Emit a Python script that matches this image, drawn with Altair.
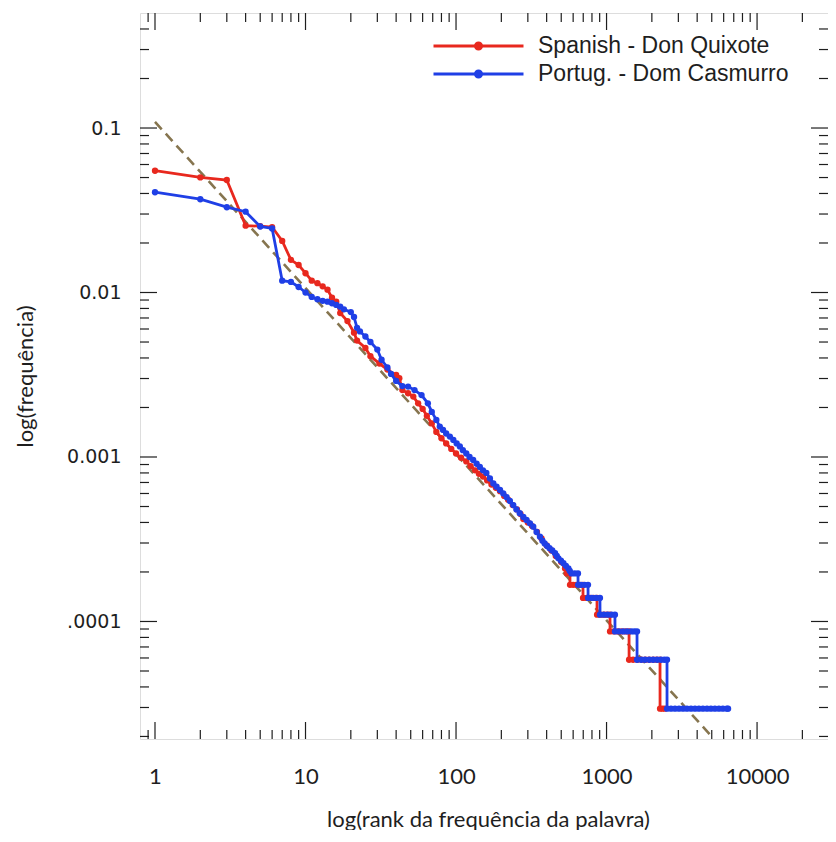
import altair as alt
import pandas as pd

series_names = ["Spanish - Don Quixote", "Portug. - Dom Casmurro"]
series_colors = ["#e8281e", "#1f3fe6"]
fit_color = "#86754f"

spanish_rank = [1, 2, 3, 4, 5, 6, 7, 8, 9, 10, 11, 12, 13, 14, 15, 16, 17, 19, 21, 22,
                25, 27, 31, 35, 40, 42, 44, 48, 52, 56, 60, 64, 69, 74, 80, 86, 93, 100,
                108, 117, 125, 134, 142, 151, 161, 172, 184, 196, 209, 222, 238, 254, 268,
                280, 300, 320, 345, 370, 400, 430, 460, 500, 530, 545, 571,
                572, 600, 630, 665, 697,
                698, 740, 780, 820, 864,
                865, 910, 960, 1005, 1054,
                1055, 1120, 1190, 1260, 1335, 1411,
                1412, 1500, 1600, 1700, 1810, 1920, 2040, 2150, 2266,
                2267, 2350, 2440]
spanish_freq = [0.0550, 0.0501, 0.0483, 0.0255, 0.0253, 0.0250, 0.0206, 0.0158, 0.0147, 0.0131,
                0.0118, 0.0114, 0.0109, 0.0104, 0.0093, 0.0088, 0.0075, 0.0067, 0.0057, 0.0051,
                0.0046, 0.0041, 0.0037, 0.0034, 0.00315, 0.00301, 0.00255, 0.00244, 0.00233,
                0.00212, 0.00196, 0.00178, 0.00160, 0.00142, 0.00130, 0.00121, 0.00112, 0.00105,
                0.00099, 0.00094, 0.00088, 0.00083, 0.00079, 0.00076, 0.00072, 0.00068, 0.00065,
                0.00062, 0.00058, 0.00055, 0.00051, 0.00048, 0.00045, 0.00042, 0.00040, 0.00038,
                0.00035, 0.00032, 0.00029, 0.00027, 0.00025, 0.00023, 0.00021, 0.000196, 0.000196,
                0.000167, 0.000167, 0.000167, 0.000167, 0.000167,
                0.000139, 0.000139, 0.000139, 0.000139, 0.000139,
                0.000110, 0.000110, 0.000110, 0.000110, 0.000110,
                8.7e-5, 8.7e-5, 8.7e-5, 8.7e-5, 8.7e-5, 8.7e-5,
                5.85e-5, 5.85e-5, 5.85e-5, 5.85e-5, 5.85e-5, 5.85e-5, 5.85e-5, 5.85e-5, 5.85e-5,
                2.95e-5, 2.95e-5, 2.95e-5]

portug_rank = [1, 2, 3, 4, 5, 6, 7, 8, 9, 10, 11, 12, 13, 14, 15, 16, 17, 18, 20, 21,
               22, 23, 25, 27, 30, 32, 35, 37, 40, 44, 48, 53, 59, 65, 69, 74, 78, 82, 86,
               91, 96, 101, 106, 111, 117, 123, 130, 137, 144, 151, 159, 168, 177, 186, 196,
               206, 217, 228, 240, 252, 265, 280, 294, 310, 326, 343, 361, 375, 388, 403,
               418, 436, 455, 467, 479, 498, 517, 537, 558, 570, 585, 615, 646,
               647, 680, 715, 753,
               754, 800, 850, 904,
               905, 960, 1020, 1080, 1137,
               1138, 1210, 1290, 1370, 1460, 1530, 1594,
               1595, 1700, 1800, 1920, 2040, 2170, 2300, 2420, 2522,
               2523, 2680, 2850, 3030, 3220, 3420, 3640, 3870, 4110, 4370, 4650, 4940,
               5250, 5580, 5930, 6300, 6417]
portug_freq = [0.0407, 0.0369, 0.0330, 0.0310, 0.0252, 0.0245, 0.0118, 0.0116, 0.0108, 0.0100,
               0.0094, 0.0091, 0.0089, 0.0088, 0.0086, 0.0084, 0.0082, 0.0079, 0.0076, 0.0071,
               0.0061, 0.0058, 0.0054, 0.0050, 0.0045, 0.0039, 0.0035, 0.0032, 0.0029, 0.0027,
               0.00268, 0.00255, 0.00238, 0.00212, 0.00188, 0.00168, 0.00153, 0.00146, 0.00139,
               0.00133, 0.00127, 0.00121, 0.00116, 0.00110, 0.00105, 0.00100, 0.00096, 0.00091,
               0.00087, 0.00083, 0.00080, 0.00074, 0.00069, 0.00066, 0.00063, 0.00060, 0.00057,
               0.00054, 0.00051, 0.00048, 0.000455, 0.000432, 0.000414, 0.000395, 0.000377,
               0.000350, 0.000328, 0.000310, 0.000298, 0.000288, 0.000279, 0.000270, 0.000260,
               0.000250, 0.000242, 0.000234, 0.000226, 0.000218, 0.000210, 0.000203, 0.000196,
               0.000196, 0.000196,
               0.000167, 0.000167, 0.000167, 0.000167,
               0.000139, 0.000139, 0.000139, 0.000139,
               0.000110, 0.000110, 0.000110, 0.000110, 0.000110,
               8.7e-5, 8.7e-5, 8.7e-5, 8.7e-5, 8.7e-5, 8.7e-5, 8.7e-5,
               5.85e-5, 5.85e-5, 5.85e-5, 5.85e-5, 5.85e-5, 5.85e-5, 5.85e-5, 5.85e-5, 5.85e-5,
               2.95e-5, 2.95e-5, 2.95e-5, 2.95e-5, 2.95e-5, 2.95e-5, 2.95e-5, 2.95e-5, 2.95e-5,
               2.95e-5, 2.95e-5, 2.95e-5, 2.95e-5, 2.95e-5, 2.95e-5, 2.95e-5, 2.95e-5]

fit_rank = [1, 5000]
fit_freq = [0.109, 2.0e-5]

x_tick_values = [1, 10, 100, 1000, 10000]
x_tick_labels = ["1", "10", "100", "1000", "10000"]
y_tick_values = [0.1, 0.01, 0.001, 0.0001]
y_tick_labels = ["0.1", "0.01", "0.001", ".0001"]

x_domain = [0.795, 29600]
y_domain = [1.93e-5, 0.5003]

x_minor = [0.9] + [m * 10 ** e for e in range(0, 5) for m in range(2, 10)]
x_minor = [v for v in x_minor if v < x_domain[1]]
y_minor = [m * 10.0 ** e for e in range(-5, 0) for m in range(2, 10)]
y_minor = [v for v in y_minor if y_domain[0] < v < 0.45]

W, H = 688, 726
MAJ, MIN = 17, 9
INK = "#1e1e1e"


def label_expr(values, labels):
    parts = [f"abs(datum.value - {v}) < {v * 1e-3} ? '{l}'" for v, l in zip(values, labels)]
    return " : ".join(parts) + " : ''"


xs = alt.Scale(type="log", domain=x_domain, nice=False)
ys = alt.Scale(type="log", domain=y_domain, nice=False)

xaxis = alt.Axis(values=x_tick_values, labelExpr=label_expr(x_tick_values, x_tick_labels),
                 ticks=False, tickSize=0, domain=False, grid=False,
                 labelFont="Lato", labelFontSize=22, labelColor=INK, labelPadding=27,
                 title="log(rank da frequência da palavra)", titleFont="Lato",
                 titleFontSize=22, titleFontWeight="normal", titleColor=INK,
                 titleX=348, titleY=87, titleBaseline="alphabetic")
yaxis = alt.Axis(values=y_tick_values, labelExpr=label_expr(y_tick_values, y_tick_labels),
                 ticks=False, tickSize=0, domain=False, grid=False,
                 labelFont="DejaVu Sans", labelFontSize=19, labelColor=INK, labelPadding=19,
                 title="log(frequência)", titleFont="Lato", titleFontSize=22,
                 titleFontWeight="normal", titleColor=INK, titleX=-103, titleBaseline="bottom")

X = alt.X("rank:Q", scale=xs, axis=xaxis)
Y = alt.Y("freq:Q", scale=ys, axis=yaxis)

legend = alt.Legend(title=None, orient="none", legendX=292, legendY=21,
                    symbolType="M-1,0H1M-0.07,0A0.07,0.07,0,1,0,0.07,0A0.07,0.07,0,1,0,-0.07,0",
                    symbolSize=8100, symbolStrokeWidth=2.8, symbolOffset=0,
                    labelFont="Liberation Sans", labelFontSize=23, labelColor=INK,
                    labelLimit=400, labelOffset=13, rowPadding=4, padding=0, clipHeight=24)
C = alt.Color("series:N", scale=alt.Scale(domain=series_names, range=series_colors), legend=legend)


def xticks(values, length, side):
    d = pd.DataFrame({"rank": values})
    if side == "bottom":
        return alt.Chart(d).mark_rule(color=INK, strokeWidth=1.2).encode(
            x=X, y=alt.value(H), y2=alt.value(H - length))
    return alt.Chart(d).mark_rule(color=INK, strokeWidth=1.2).encode(
        x=X, y=alt.value(0), y2=alt.value(length))


def yticks(values, length, side):
    d = pd.DataFrame({"freq": values})
    if side == "left":
        return alt.Chart(d).mark_rule(color=INK, strokeWidth=1.2).encode(
            y=Y, x=alt.value(0), x2=alt.value(length))
    return alt.Chart(d).mark_rule(color=INK, strokeWidth=1.2).encode(
        y=Y, x=alt.value(W), x2=alt.value(W - length))


tick_layers = []
for side in ["bottom", "top"]:
    tick_layers.append(xticks(x_tick_values, MAJ, side))
    tick_layers.append(xticks(x_minor, MIN, side))
for side in ["left", "right"]:
    tick_layers.append(yticks(y_tick_values, MAJ, side))
    tick_layers.append(yticks(y_minor, MIN, side))

fit = alt.Chart(pd.DataFrame({"rank": fit_rank, "freq": fit_freq})).mark_line(
    color=fit_color, strokeWidth=2.6, strokeDash=[10, 6]).encode(x=X, y=Y)


def series_layer(name, ranks, freqs):
    d = pd.DataFrame({"rank": ranks, "freq": freqs, "series": name, "i": list(range(len(ranks)))})
    return alt.Chart(d).mark_line(
        strokeWidth=2.8, point=alt.OverlayMarkDef(filled=True, size=40)
    ).encode(x=X, y=Y, color=C, order="i:Q")


spanish = series_layer(series_names[0], spanish_rank, spanish_freq)
portug = series_layer(series_names[1], portug_rank, portug_freq)

chart = alt.layer(*tick_layers, fit, spanish, portug).properties(
    width=W, height=H,
    autosize=alt.AutoSizeParams(type="none"),
    padding={"left": 132, "top": 5, "right": 0, "bottom": 91},
).configure_view(stroke=INK, strokeWidth=1.3).configure(background="white")

chart.save("out.html", embed_options={"renderer": "svg", "actions": False})
